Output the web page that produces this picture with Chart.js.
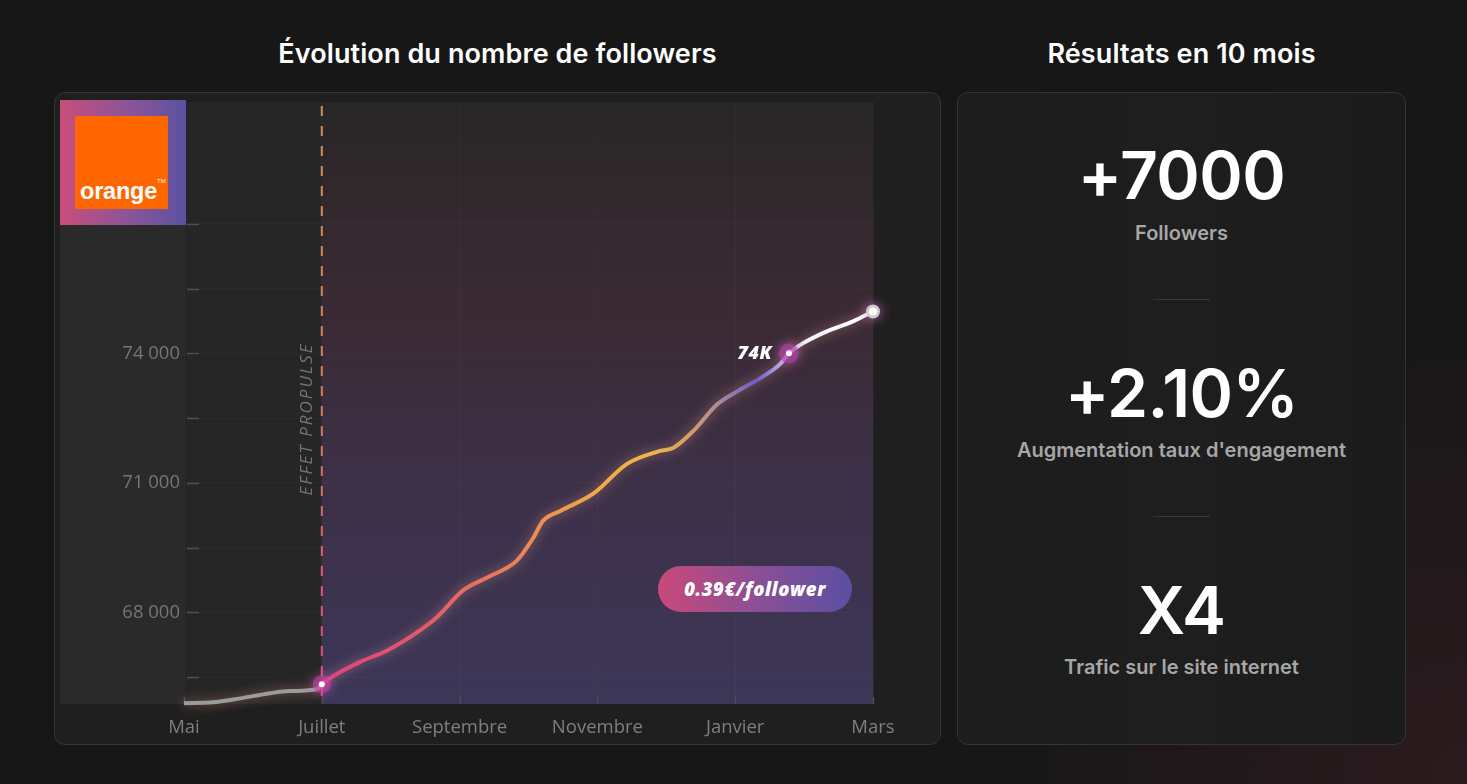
<!DOCTYPE html>
<html lang="fr">
<head>
<meta charset="utf-8">
<script src="https://cdn.jsdelivr.net/npm/chart.js@4.4.1/dist/chart.umd.min.js"></script>
<style>
  html, body { margin: 0; padding: 0; }
  body {
    width: 1467px; height: 784px; overflow: hidden; position: relative;
    background: radial-gradient(circle at 100% 100%, rgba(70,30,40,0.45), rgba(23,23,23,0) 28%), #171717;
    font-family: Inter, "Noto Sans", sans-serif;
  }
  .title { position: absolute; top: 40px; height: 28px; line-height: 28px; color: #fff; font-size: 27px; font-weight: 600; text-align: center; letter-spacing: 0.1px; }
  .panel { position: absolute; top: 92px; height: 653px; box-sizing: border-box; border: 1.5px solid #343434; border-radius: 11px; }
  #chartPanel { left: 54px; width: 887px; background: #1f1f1f; }
  #statsPanel { left: 957px; width: 449px; background: linear-gradient(90deg, #1c1c1c, #1e1e1e 50%, #1b1b1b); }
  #chartWrap { position: absolute; left: 54px; top: 92px; width: 887px; height: 653px; }
  #logo { position: absolute; left: 60px; top: 100px; width: 126px; height: 125px; background: linear-gradient(90deg, #c94d7c, #8a5598 55%, #5c51a2); }
  #logo .sq { position: absolute; left: 15px; top: 16px; width: 93px; height: 93px; background: #ff6600; }
  #logo .sq span { position: absolute; left: 5px; bottom: 4px; color: #fff; font-family: "Liberation Sans", Arial, sans-serif; font-weight: 700; font-size: 23.5px; letter-spacing: -0.2px; }
  #logo .sq sup { position: absolute; left: 82px; top: 62px; color: #fff; font-family: "Liberation Sans", sans-serif; font-size: 6px; }
  #badge { position: absolute; left: 658px; top: 566px; width: 194px; height: 46px; border-radius: 23px; background: linear-gradient(90deg, #c9497a, #8c4f95 50%, #5b4fa3); color: #fff; font-family: "Open Sans", sans-serif; font-weight: 800; font-style: italic; font-size: 18.5px; line-height: 46px; text-align: center; letter-spacing: 0.6px; }
  .big { position: absolute; left: 957px; width: 449px; text-align: center; color: #fff; font-weight: 600; font-size: 66px; line-height: 66px; letter-spacing: -0.6px; }
  .lbl { position: absolute; left: 957px; width: 449px; text-align: center; color: #a7a7a7; font-weight: 600; font-size: 20px; line-height: 20px; }
  .sep { position: absolute; left: 1153px; width: 57px; height: 1px; background: #383838; }
</style>
</head>
<body>
<div class="title" style="left:54px;width:887px;">Évolution du nombre de followers</div>
<div class="title" style="left:957px;width:449px;">Résultats en 10 mois</div>
<div class="panel" id="chartPanel"></div>
<div class="panel" id="statsPanel"></div>
<div id="chartWrap"><canvas id="followersChart" width="887" height="653"></canvas></div>
<div id="logo"><div class="sq"><span>orange</span><sup>TM</sup></div></div>
<div id="badge">0.39€/follower</div>

<div class="big" style="top:142px;">+7000</div>
<div class="lbl" style="top:223px;">Followers</div>
<div class="sep" style="top:299px;"></div>
<div class="big" style="top:360px;">+2.10%</div>
<div class="lbl" style="top:440px;">Augmentation taux d'engagement</div>
<div class="sep" style="top:516px;"></div>
<div class="big" style="top:577px;">X4</div>
<div class="lbl" style="top:657px;">Trafic sur le site internet</div>

<script>
// month index: 0 = Mai ... 10 = Mars
const months = ['Mai', 'Juin', 'Juillet', 'Août', 'Septembre', 'Octobre', 'Novembre', 'Décembre', 'Janvier', 'Février', 'Mars'];
const followerMonths = [0, 0.42, 0.81, 1.25, 1.54, 1.93, 2, 2.55, 2.95, 3.43, 3.67, 4.05, 4.4, 4.83, 5.07, 5.21, 5.46, 5.94, 6.43, 6.91, 7.1, 7.39, 7.74, 8.03, 8.36, 8.65, 8.78, 8.98, 9.33, 9.71, 10];
const followerValues = [65900, 65920, 66010, 66130, 66180, 66220, 66340, 66850, 67120, 67590, 67890, 68510, 68810, 69200, 69730, 70120, 70350, 70750, 71440, 71740, 71810, 72200, 72820, 73120, 73420, 73750, 74000, 74230, 74510, 74740, 74970];
const yTicks = [66500, 68000, 69500, 71000, 72500, 74000, 75500, 77000];
const yLabelled = [68000, 71000, 74000];
const markerMonths = [2, 8.78, 10];
const markerValues = [66340, 74000, 74970];
const markerLabels = ['', '74K', ''];
const launchMonth = 2;
const launchText = 'EFFET PROPULSE';

const toPoints = (xs, ys) => xs.map((x, i) => ({ x: x, y: ys[i] }));

function lineGradient(context) {
  const chart = context.chart;
  const { ctx, chartArea, scales } = chart;
  if (!chartArea) return '#e0417f';
  const x0 = scales.x.getPixelForValue(launchMonth);
  const x1 = scales.x.getPixelForValue(10);
  const g = ctx.createLinearGradient(x0, 0, x1, 0);
  g.addColorStop(0, '#e0417f');
  g.addColorStop(0.19, '#e35a6a');
  g.addColorStop(0.38, '#ec8a56');
  g.addColorStop(0.5, '#f2aa45');
  g.addColorStop(0.6, '#f0b44a');
  g.addColorStop(0.66, '#d6a066');
  g.addColorStop(0.72, '#a98c98');
  g.addColorStop(0.79, '#6c5dc6');
  g.addColorStop(0.84, '#c5bdec');
  g.addColorStop(0.88, '#f4f2fa');
  g.addColorStop(1, '#ffffff');
  return g;
}

const glow = {
  id: 'glow',
  beforeDatasetDraw(chart, args) {
    const ds = chart.data.datasets[args.index];
    if (!ds.glowColor) return;
    chart.ctx.save();
    chart.ctx.shadowColor = ds.glowColor;
    chart.ctx.shadowBlur = ds.glowBlur;
  },
  afterDatasetDraw(chart, args) {
    if (chart.data.datasets[args.index].glowColor) chart.ctx.restore();
  }
};

const stage = {
  id: 'stage',
  beforeDraw(chart) {
    const { ctx, chartArea: a, scales: { x } } = chart;
    ctx.save();
    ctx.fillStyle = '#2a2a2a';
    ctx.fillRect(6, a.top, a.left - 6, a.bottom - a.top);
    ctx.fillStyle = '#262626';
    ctx.fillRect(a.left, a.top, a.right - a.left, a.bottom - a.top);
    const xl = x.getPixelForValue(launchMonth);
    const g = ctx.createLinearGradient(0, a.top, 0, a.bottom);
    g.addColorStop(0, '#282627');
    g.addColorStop(0.15, '#31282c');
    g.addColorStop(0.35, '#3b2a34');
    g.addColorStop(0.6, '#3d3046');
    g.addColorStop(1, '#3c3658');
    ctx.fillStyle = g;
    ctx.fillRect(xl, a.top, a.right - xl, a.bottom - a.top);
    ctx.restore();
  },
  beforeDatasetsDraw(chart) {
    const { ctx, chartArea: a, scales: { x, y } } = chart;
    ctx.save();
    // inner tick marks
    ctx.strokeStyle = '#4f4f4f';
    ctx.lineWidth = 1.5;
    y.ticks.forEach(t => {
      const py = Math.round(y.getPixelForValue(t.value)) + 0.5;
      ctx.beginPath(); ctx.moveTo(a.left + 3, py); ctx.lineTo(a.left + 15, py); ctx.stroke();
    });
    x.ticks.forEach(t => {
      const px = Math.round(x.getPixelForValue(t.value)) + 0.5;
      ctx.beginPath(); ctx.moveTo(px, a.bottom); ctx.lineTo(px, a.bottom - 7); ctx.stroke();
    });
    // launch dashed line
    const xl = x.getPixelForValue(launchMonth);
    const dg = ctx.createLinearGradient(0, a.top, 0, a.bottom);
    dg.addColorStop(0, '#c9925c');
    dg.addColorStop(0.5, '#d67a62');
    dg.addColorStop(1, '#db4a7c');
    ctx.strokeStyle = dg;
    ctx.lineWidth = 2;
    ctx.setLineDash([10, 10]);
    ctx.beginPath(); ctx.moveTo(xl, a.top + 4); ctx.lineTo(xl, a.bottom); ctx.stroke();
    ctx.setLineDash([]);
    // launch text
    ctx.translate(xl - 15, 327);
    ctx.rotate(-Math.PI / 2);
    ctx.font = 'italic 17px "Open Sans", sans-serif';
    ctx.letterSpacing = '2px';
    ctx.fillStyle = '#747474';
    ctx.textAlign = 'center';
    ctx.textBaseline = 'middle';
    ctx.fillText(launchText, 0, 0);
    ctx.restore();
  },
  afterDatasetsDraw(chart) {
    const { ctx } = chart;
    const meta = chart.getDatasetMeta(2);
    ctx.save();
    ctx.font = 'italic 800 18px "Open Sans", sans-serif';
    ctx.letterSpacing = '0.5px';
    ctx.fillStyle = '#ffffff';
    ctx.textAlign = 'right';
    ctx.textBaseline = 'middle';
    markerLabels.forEach((txt, i) => {
      if (!txt) return;
      const el = meta.data[i];
      ctx.fillText(txt, el.x - 17, el.y + 1);
    });
    ctx.restore();
  }
};

new Chart(document.getElementById('followersChart'), {
  type: 'line',
  data: {
    datasets: [
      {
        data: toPoints(followerMonths, followerValues),
        borderColor: lineGradient,
        borderWidth: 4,
        cubicInterpolationMode: 'monotone',
        pointRadius: 0,
        fill: false,
        clip: 12,
        order: 3,
        glowColor: 'rgba(255,170,150,0.5)',
        glowBlur: 11,
        segment: {
          borderColor: c => (c.p0.parsed.x < launchMonth ? '#9b9b9b' : undefined)
        }
      },
      {
        type: 'scatter',
        data: toPoints(markerMonths, markerValues),
        pointRadius: [9, 10, 7],
        pointBackgroundColor: ['rgba(205,60,170,0.55)', 'rgba(175,60,165,0.6)', 'rgba(210,210,210,0.95)'],
        pointBorderWidth: 0,
        clip: 20,
        order: 2,
        glowColor: 'rgba(225,110,210,0.9)',
        glowBlur: 12
      },
      {
        type: 'scatter',
        data: toPoints(markerMonths, markerValues),
        pointRadius: [3, 3, 4],
        pointBackgroundColor: '#ffffff',
        pointBorderWidth: 0,
        clip: 20,
        order: 1
      }
    ]
  },
  options: {
    responsive: false,
    animation: false,
    events: [],
    layout: { padding: { top: 8, right: 68, left: 0, bottom: 0 } },
    plugins: { legend: { display: false }, tooltip: { enabled: false } },
    scales: {
      x: {
        type: 'linear',
        min: 0,
        max: 10,
        afterFit: s => { s.height = 41; s.paddingLeft = 0; s.paddingRight = 0; },
        afterBuildTicks: s => { s.ticks = [0, 2, 4, 6, 8, 10].map(v => ({ value: v })); },
        ticks: {
          padding: 13,
          color: '#7f7f7f',
          font: { family: '"Open Sans", sans-serif', size: 18.5 },
          maxRotation: 0,
          callback: v => months[v]
        },
        grid: { color: 'rgba(255,255,255,0.028)', drawTicks: false },
        border: { display: false }
      },
      y: {
        min: 65880,
        max: 79820,
        afterFit: s => { s.width = 130; s.paddingTop = 0; s.paddingBottom = 0; },
        afterBuildTicks: s => { s.ticks = yTicks.map(v => ({ value: v })); },
        ticks: {
          padding: 4,
          color: '#767676',
          font: { family: '"Open Sans", sans-serif', size: 18.5 },
          callback: v => (yLabelled.includes(v) ? v.toLocaleString('fr-FR').replace(/\s/g, ' ') : '')
        },
        grid: { color: 'rgba(255,255,255,0.025)', drawTicks: false },
        border: { display: false }
      }
    }
  },
  plugins: [stage, glow]
});
</script>
</body>
</html>
